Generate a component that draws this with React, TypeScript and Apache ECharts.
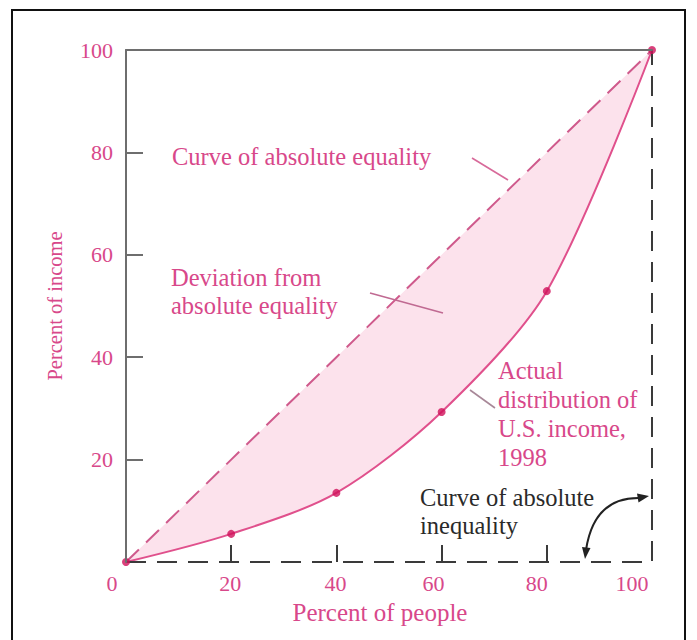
import React, { useEffect, useRef } from "react";
import * as echarts from "echarts";

const people = [0, 20, 40, 60, 80, 100];
const equality = [0, 20, 40, 60, 80, 100];
const actualIncome = [0, 5.5, 13.5, 29.3, 52.9, 100];
const inequalityX = [0, 100, 100];
const inequalityY = [0, 0, 100];
const tickValues = [20, 40, 60, 80];
const xLabelValues = [0, 20, 40, 60, 80, 100];
const yLabelValues = [20, 40, 60, 80, 100];

const FONT = "'Liberation Serif', 'Times New Roman', serif";
const PINK = "#d8488a";
const DOT = "#d0105a";
const FILL = "#fce2ec";
const AXIS_GRAY = "#6e6e6e";
const DARK = "#3a3a3a";

// label shift (style): extra right padding to nudge labels left like the reference
const xLabelPad: Record<number, number> = { 0: 28, 20: 2, 40: 2, 60: 16, 80: 20, 100: 40 };

export default function App() {
  const ref = useRef<HTMLDivElement>(null);
  useEffect(() => {
    if (!ref.current) return;
    const chart = echarts.init(ref.current, undefined, { renderer: "svg" });
    const pairs = (xs: number[], ys: number[]) => xs.map((x, i) => [x, ys[i]]);
    const rich: Record<string, any> = {};
    xLabelValues.forEach((v) => {
      rich["s" + v] = {
        fontFamily: FONT,
        fontSize: 22,
        color: PINK,
        padding: [0, xLabelPad[v] || 0, 0, 0],
      };
    });
    const textStyle = (extra: any) => ({
      fontFamily: FONT,
      fontSize: 24.5,
      fill: PINK,
      textVerticalAlign: "middle",
      ...extra,
    });
    const graphics: any[] = [
      {
        type: "rect",
        shape: { x: 12, y: 10, width: 673, height: 660 },
        style: { fill: "none", stroke: "#111", lineWidth: 2 },
        silent: true,
      },
      { type: "text", x: 172, y: 156, style: textStyle({ text: "Curve of absolute equality" }) },
      { type: "text", x: 171, y: 277, style: textStyle({ text: "Deviation from" }) },
      { type: "text", x: 171, y: 305, style: textStyle({ text: "absolute equality" }) },
      { type: "text", x: 498, y: 370, style: textStyle({ text: "Actual" }) },
      { type: "text", x: 498, y: 399, style: textStyle({ text: "distribution of" }) },
      { type: "text", x: 498, y: 428, style: textStyle({ text: "U.S. income," }) },
      { type: "text", x: 498, y: 457, style: textStyle({ text: "1998" }) },
      { type: "text", x: 420, y: 497, style: textStyle({ text: "Curve of absolute", fill: "#2a2a2a" }) },
      { type: "text", x: 420, y: 525, style: textStyle({ text: "inequality", fill: "#2a2a2a" }) },
      {
        type: "line",
        shape: { x1: 472, y1: 158, x2: 508, y2: 180 },
        style: { stroke: "#d86a9a", lineWidth: 1.6 },
      },
      {
        type: "line",
        shape: { x1: 370, y1: 293, x2: 443, y2: 313 },
        style: { stroke: "#c06a92", lineWidth: 1.6 },
      },
      {
        type: "line",
        shape: { x1: 470, y1: 390, x2: 495, y2: 408 },
        style: { stroke: "#a88898", lineWidth: 1.6 },
      },
      {
        type: "bezierCurve",
        shape: { x1: 586, y1: 550, x2: 640, y2: 498, cpx1: 594, cpy1: 497 },
        style: { stroke: "#222", lineWidth: 2, fill: "none" },
      },
      {
        type: "polygon",
        shape: { points: [[585, 559], [590.5, 548], [582, 547]] },
        style: { fill: "#222" },
      },
      {
        type: "polygon",
        shape: { points: [[649, 496], [638.5, 502.5], [637, 493.5]] },
        style: { fill: "#222" },
      },
    ].map((g) => ({ ...g, z: 100 }));

    chart.setOption({
      animation: false,
      backgroundColor: "#ffffff",
      grid: { left: 126, right: 45, top: 50, bottom: 78, containLabel: false },
      xAxis: [
        {
          type: "value",
          min: 0,
          max: 100,
          interval: 20,
          position: "bottom",
          z: 10,
          name: "Percent of people",
          nameLocation: "middle",
          nameGap: 38,
          nameTextStyle: { fontFamily: FONT, fontSize: 25, color: PINK, padding: [0, 18, 0, 0] },
          axisLine: { show: false },
          axisTick: {
            show: true,
            inside: true,
            length: 17,
            customValues: tickValues,
            lineStyle: { color: DARK, width: 2 },
          },
          axisLabel: {
            customValues: xLabelValues,
            margin: 10,
            fontFamily: FONT,
            fontSize: 22,
            color: PINK,
            formatter: (v: number) => `{s${v}|${v}}`,
            rich,
          },
          splitLine: { show: false },
        },
        {
          type: "value",
          min: 0,
          max: 100,
          position: "top",
          z: 10,
          axisLine: { show: true, lineStyle: { color: AXIS_GRAY, width: 2 } },
          axisTick: { show: false },
          axisLabel: { show: false },
          splitLine: { show: false },
        },
      ],
      yAxis: {
        type: "value",
        min: 0,
        max: 100,
        interval: 20,
        z: 10,
        name: "Percent of income",
        nameLocation: "middle",
        nameGap: 61,
        nameRotate: 90,
        nameTextStyle: { fontFamily: FONT, fontSize: 20.5, color: PINK },
        axisLine: { show: true, lineStyle: { color: AXIS_GRAY, width: 2 } },
        axisTick: {
          show: true,
          inside: true,
          length: 17,
          customValues: tickValues,
          lineStyle: { color: AXIS_GRAY, width: 2 },
        },
        axisLabel: {
          customValues: yLabelValues,
          margin: 13,
          fontFamily: FONT,
          fontSize: 22,
          color: PINK,
        },
        splitLine: { show: false },
      },
      series: [
        {
          name: "Deviation from absolute equality",
          type: "line",
          data: pairs(people, equality),
          symbol: "none",
          lineStyle: { width: 0, opacity: 0 },
          areaStyle: { color: FILL, opacity: 1 },
          silent: true,
          z: 1,
        },
        {
          name: "below actual",
          type: "line",
          data: pairs(people, actualIncome),
          smooth: 0.3,
          symbol: "none",
          lineStyle: { width: 0, opacity: 0 },
          areaStyle: { color: "#ffffff", opacity: 1 },
          silent: true,
          z: 2,
        },
        {
          name: "Curve of absolute equality",
          type: "line",
          data: pairs(people, equality),
          symbol: "none",
          lineStyle: { color: "#cf5a8c", width: 2, type: [18, 10] },
          z: 3,
        },
        {
          name: "Actual distribution of U.S. income, 1998",
          type: "line",
          data: pairs(people, actualIncome),
          smooth: 0.3,
          symbol: "none",
          lineStyle: { color: "#e0508c", width: 2 },
          z: 3,
        },
        {
          name: "Curve of absolute inequality",
          type: "line",
          data: pairs(inequalityX, inequalityY),
          symbol: "none",
          clip: false,
          lineStyle: { color: DARK, width: 2, type: [20, 11] },
          z: 4,
        },
        {
          name: "points",
          type: "scatter",
          data: pairs(people, actualIncome),
          symbolSize: 8,
          clip: false,
          itemStyle: { color: DOT },
          z: 5,
        },
      ],
      graphic: graphics,
    });
    return () => chart.dispose();
  }, []);
  return (
    <div
      ref={ref}
      style={{ position: "fixed", left: 0, top: 0, width: 697, height: 640, background: "#fff" }}
    />
  );
}
